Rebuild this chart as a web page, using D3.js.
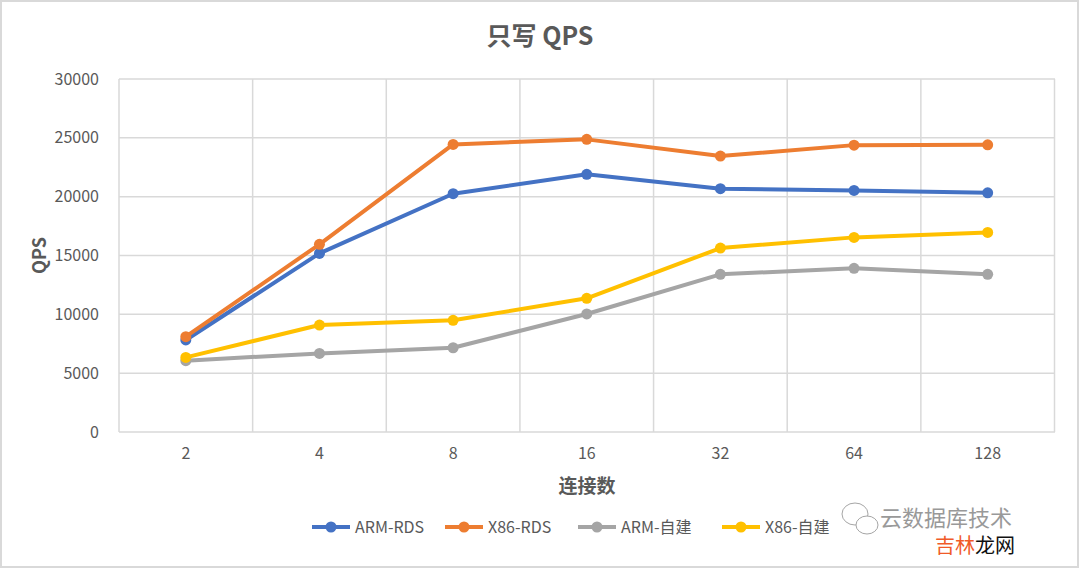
<!DOCTYPE html>
<html>
<head>
<meta charset="utf-8">
<script src="https://cdn.jsdelivr.net/npm/d3@7"></script>
<style>
  body { margin: 0; background: #fff; }
  text { font-family: "Noto Sans CJK SC", "Open Sans", sans-serif; }
</style>
</head>
<body>
<div id="chart"></div>
<script>
// Données
const connexions = ["2", "4", "8", "16", "32", "64", "128"];
const armRds = [7820, 15180, 20250, 21900, 20680, 20530, 20330];
const x86Rds = [8100, 15950, 24440, 24870, 23450, 24380, 24410];
const armSelf = [6060, 6680, 7160, 10030, 13400, 13910, 13400];
const x86Self = [6340, 9090, 9490, 11360, 15630, 16540, 16960];
const seriesNames = ["ARM-RDS", "X86-RDS", "ARM-自建", "X86-自建"];
const seriesColors = ["#4472c4", "#ed7d31", "#a5a5a5", "#ffc000"];
const yTicks = [0, 5000, 10000, 15000, 20000, 25000, 30000];

const width = 1080;
const height = 571;
const margin = { top: 79, right: 25, bottom: 139, left: 119 };

const series = [armRds, x86Rds, armSelf, x86Self].map((values, i) => ({
  name: seriesNames[i],
  color: seriesColors[i],
  values: values,
}));

const svg = d3
  .select("#chart")
  .append("svg")
  .attr("width", width)
  .attr("height", height);

// cadre gris autour du graphique
svg
  .append("rect")
  .attr("x", 1)
  .attr("y", 1)
  .attr("width", width - 3)
  .attr("height", height - 5)
  .attr("fill", "#fff")
  .attr("stroke", "#d9d9d9")
  .attr("stroke-width", 2);

const x = d3
  .scaleBand()
  .domain(connexions)
  .range([margin.left, width - margin.right - 0.5]);

const y = d3
  .scaleLinear()
  .domain([0, 30000])
  .range([height - margin.bottom, margin.top]);

// grille horizontale
svg
  .append("g")
  .selectAll("line")
  .data(yTicks)
  .join("line")
  .attr("x1", margin.left)
  .attr("x2", width - margin.right)
  .attr("y1", (d) => y(d))
  .attr("y2", (d) => y(d))
  .attr("stroke", "#d9d9d9")
  .attr("stroke-width", 1.5);

// grille verticale (limites des catégories)
const bounds = connexions.map((c) => x(c)).concat([x.range()[1]]);
svg
  .append("g")
  .selectAll("line")
  .data(bounds)
  .join("line")
  .attr("x1", (d) => d)
  .attr("x2", (d) => d)
  .attr("y1", y(30000))
  .attr("y2", y(0))
  .attr("stroke", "#d9d9d9")
  .attr("stroke-width", 1.5);

// axe y
svg
  .append("g")
  .attr("transform", `translate(${margin.left - 17},0)`)
  .call(d3.axisLeft(y).tickValues(yTicks).tickSize(0).tickFormat(d3.format("d")))
  .call((g) => g.select(".domain").remove())
  .call((g) =>
    g.selectAll("text").attr("fill", "#595959").style("font-size", "16px")
  );

// axe x
svg
  .append("g")
  .attr("transform", `translate(0,${y(0) + 13})`)
  .call(d3.axisBottom(x).tickSize(0))
  .call((g) => g.select(".domain").remove())
  .call((g) =>
    g.selectAll("text").attr("fill", "#595959").style("font-size", "16px")
  );

// titres
svg
  .append("text")
  .attr("x", 540)
  .attr("y", 45)
  .attr("text-anchor", "middle")
  .attr("fill", "#595959")
  .style("font-size", "25px")
  .style("font-weight", "bold")
  .text("只写 QPS");

svg
  .append("text")
  .attr("transform", `translate(46,${(y(0) + y(30000)) / 2}) rotate(-90)`)
  .attr("text-anchor", "middle")
  .attr("fill", "#595959")
  .style("font-size", "18px")
  .style("font-weight", "bold")
  .text("QPS");

svg
  .append("text")
  .attr("x", (margin.left + width - margin.right) / 2)
  .attr("y", 493)
  .attr("text-anchor", "middle")
  .attr("fill", "#595959")
  .style("font-size", "19px")
  .style("font-weight", "bold")
  .text("连接数");

// courbes
const line = d3
  .line()
  .x((d, i) => x(connexions[i]) + x.bandwidth() / 2)
  .y((d) => y(d));

series.forEach((s) => {
  const g = svg.append("g");
  g.append("path")
    .attr("fill", "none")
    .attr("stroke", s.color)
    .attr("stroke-width", 4)
    .attr("stroke-linejoin", "round")
    .attr("d", line(s.values));
  g.selectAll("circle")
    .data(s.values)
    .join("circle")
    .attr("cx", (d, i) => x(connexions[i]) + x.bandwidth() / 2)
    .attr("cy", (d) => y(d))
    .attr("r", 5.5)
    .attr("fill", s.color);
});

// légende
const legendX = [312, 445, 578, 722];
const legend = svg
  .append("g")
  .selectAll("g")
  .data(series)
  .join("g")
  .attr("transform", (d, i) => `translate(${legendX[i]},527)`);

legend
  .append("line")
  .attr("x1", 0)
  .attr("x2", 38)
  .attr("stroke", (d) => d.color)
  .attr("stroke-width", 4);
legend
  .append("circle")
  .attr("cx", 19)
  .attr("r", 5.5)
  .attr("fill", (d) => d.color);
legend
  .append("text")
  .attr("x", 43)
  .attr("dy", "0.35em")
  .attr("fill", "#595959")
  .style("font-size", "16px")
  .text((d) => d.name);

// filigrane
const wm = svg.append("g").attr("opacity", 0.75);
wm.append("ellipse")
  .attr("cx", 855)
  .attr("cy", 514)
  .attr("rx", 13)
  .attr("ry", 11)
  .attr("fill", "none")
  .attr("stroke", "#888")
  .attr("stroke-width", 1);
wm.append("ellipse")
  .attr("cx", 867)
  .attr("cy", 525)
  .attr("rx", 11)
  .attr("ry", 9)
  .attr("fill", "#fff")
  .attr("stroke", "#888")
  .attr("stroke-width", 1);
wm.append("text")
  .attr("x", 880)
  .attr("y", 526)
  .attr("fill", "#777")
  .style("font-size", "22px")
  .text("云数据库技术");
svg
  .append("text")
  .attr("x", 935)
  .attr("y", 553)
  .attr("fill", "#f05a28")
  .style("font-size", "20px")
  .text("吉林")
  .append("tspan")
  .attr("fill", "#111")
  .text("龙网");
</script>
</body>
</html>
